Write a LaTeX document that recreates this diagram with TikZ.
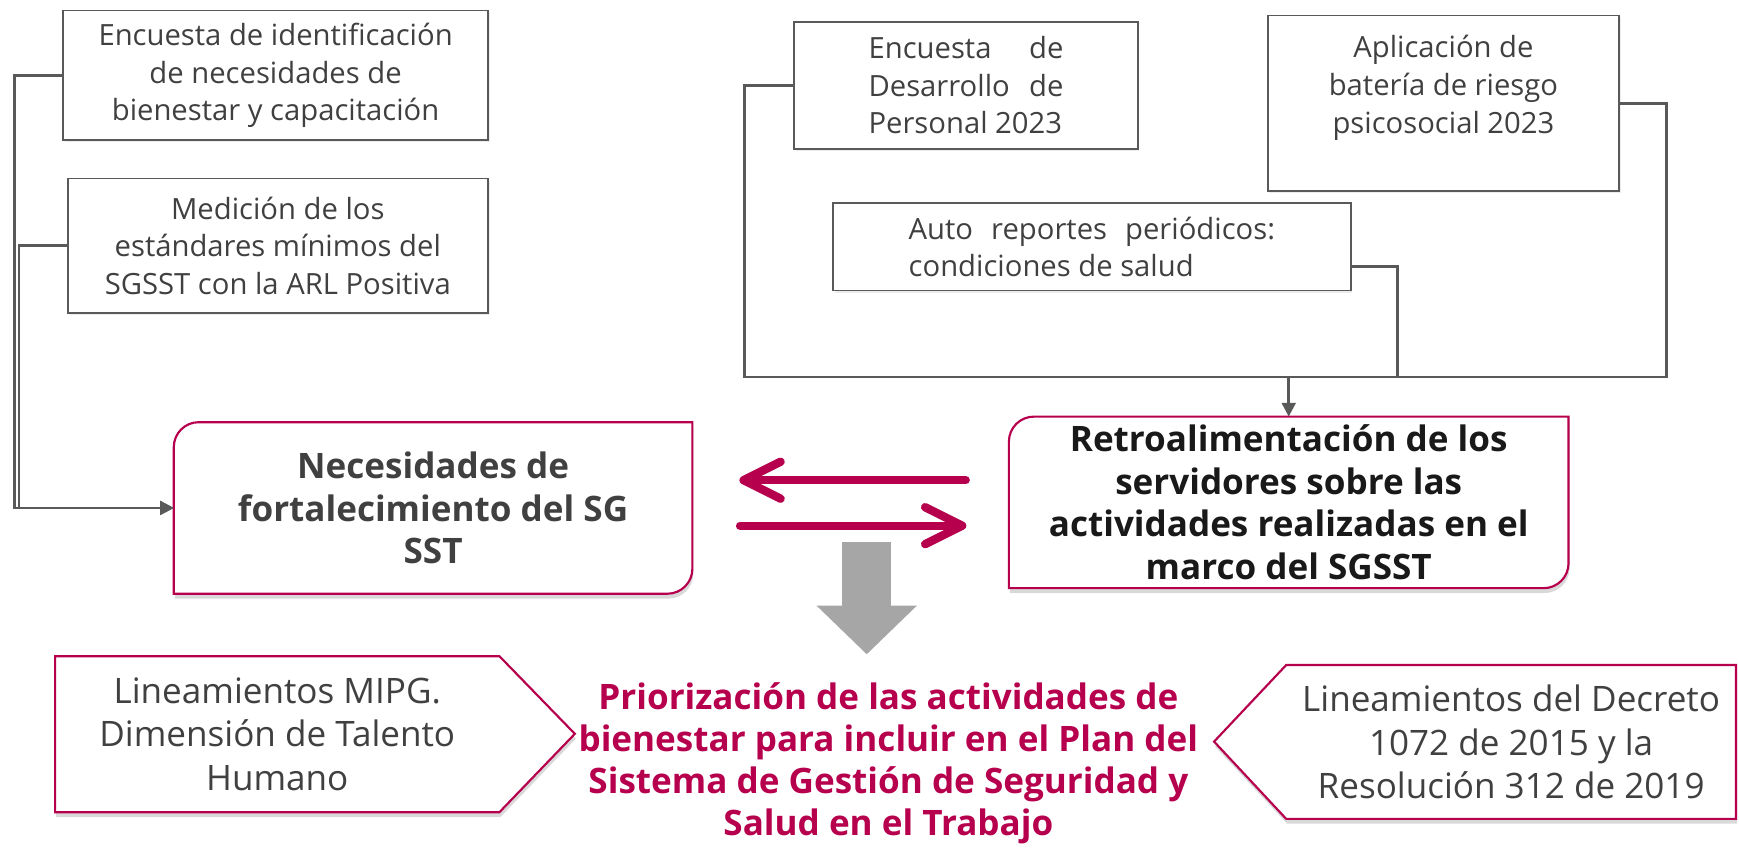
\documentclass[tikz,border=0pt]{standalone}
\usepackage{fontspec}
\setmainfont{Open Sans}
\usetikzlibrary{arrows.meta,shadows,backgrounds}

\definecolor{crimson}{HTML}{B7004D}
\definecolor{linegray}{HTML}{595959}
\definecolor{textgray}{HTML}{404040}
\definecolor{arrowgray}{HTML}{A6A6A6}

\tikzstyle{srcbox} = [rectangle, draw=linegray, line width=0.9pt, fill=white, align=center, text=textgray, font=\fontsize{15}{19.3}\selectfont, inner sep=0pt, drop shadow={opacity=0.15, shadow xshift=0.8pt, shadow yshift=-1pt}]
\tikzstyle{resbox} = [rectangle, align=center, font=\bfseries\fontsize{18}{21.8}\selectfont, inner sep=0pt]
\tikzstyle{guidetext} = [rectangle, align=center, text=textgray, font=\fontsize{18}{22.5}\selectfont, inner sep=0pt]
\tikzstyle{crimsonshell} = [draw=crimson, line width=1.1pt, fill=white, drop shadow={opacity=0.3, shadow xshift=0.5pt, shadow yshift=-2.5pt}]
\tikzset{edge/.style = {
    draw=linegray, line width=1.4pt,
    -{Triangle[length=7pt,width=7pt]},
  },
  link/.style = {draw=linegray, line width=1.4pt},
  backforth/.style = {draw=crimson, line width=4.3pt, line cap=round,
    -{Straight Barb[length=19pt,width=19pt,round]}},
  pushdown/.style = {draw=arrowgray, line width=25pt,
    -{Triangle[length=25pt,width=50pt]}}
}

% border with two rounded corners (top left, bottom right)
\newcommand{\diagshell}[1]{%
  \draw[crimsonshell] (#1.south west) -- ([yshift=-0.45cm]#1.north west)
    arc[start angle=180, end angle=90, radius=0.45cm] -- (#1.north east)
    -- ([yshift=0.45cm]#1.south east)
    arc[start angle=0, end angle=-90, radius=0.45cm] -- cycle;}

\begin{document}
\begin{tikzpicture}[x=0.02cm, y=-0.02cm]
            \useasboundingbox (0,0) rectangle (1568,770);

            % sources
            \node[srcbox, minimum width=7.66cm, minimum height=2.34cm] (encid) at (248.5,68) {Encuesta de identificación\\ de necesidades de\\ bienestar y capacitación};
            \node[srcbox, minimum width=7.58cm, minimum height=2.42cm] (medicion) at (250.5,221.5) {Medición de los\\ estándares mínimos del\\ SGSST con la ARL Positiva};
            \node[srcbox, minimum width=6.2cm, minimum height=2.29cm, align=left] (desarrollo) at (871,77) {\makebox[100pt][s]{Encuesta de}\\ \makebox[100pt][s]{Desarrollo de}\\ Personal 2023};
            \node[srcbox, minimum width=6.34cm, minimum height=3.16cm] (bateria) at (1301.5,93) {Aplicación de\\ batería de riesgo\\ psicosocial 2023\\ \mbox{}};
            \node[srcbox, minimum width=9.34cm, minimum height=1.58cm, align=left] (autorep) at (984.5,222.5) {\makebox[188pt][s]{Auto reportes periódicos:}\\ condiciones de salud};

            % results
            \node[resbox, minimum width=9.34cm, minimum height=3.08cm, text=textgray] (nec) at (390.5,458) {Necesidades de\\ fortalecimiento del SG\\ SST};
            \node[resbox, minimum width=10.08cm, minimum height=3.08cm, text=black!90] (retro) at (1162,453) {Retroalimentación de los\\ servidores sobre las\\ actividades realizadas en el\\ marco del SGSST};
            \node[font=\bfseries\fontsize{18}{21.5}\selectfont, text=crimson, align=center, inner sep=0pt] (prio) at (801,688) {Priorización de las actividades de\\ bienestar para incluir en el Plan del\\ Sistema de Gestión de Seguridad y\\ Salud en el Trabajo};

            % guidelines
            \node[guidetext, minimum width=8cm, minimum height=2.8cm] (mipg) at (250,662) {Lineamientos MIPG.\\ Dimensión de Talento\\ Humano};
            \node[guidetext, minimum width=8.1cm, minimum height=2.76cm] (decreto) at (1362.5,669) {Lineamientos del Decreto\\ 1072 de 2015 y la\\ Resolución 312 de 2019};

            % shells
            \begin{scope}[on background layer]
              \diagshell{nec}
              \diagshell{retro}
              \draw[crimsonshell] (mipg.north west) -- (mipg.north east) -- ++(68,70) -- (mipg.south east) -- (mipg.south west) -- cycle;
              \draw[crimsonshell] (decreto.north east) -- (decreto.north west) -- ++(-65,69) -- (decreto.south west) -- (decreto.south east) -- cycle;
            \end{scope}

            %edges
            \draw[edge] (encid.west) -- ++(-43,0) |- (nec.west);
            \draw[edge] (medicion.west) -- ++(-43,0) |- (nec.west);

            \coordinate (join) at (1162,340);
            \draw[link] (desarrollo.west) -- ++(-44,0) |- (join);
            \draw[link] (bateria.east) -- ++(42,0) |- (join);
            \draw[link] ([yshift=-0.35cm]autorep.east) -- ++(41,0) |- (join);
            \draw[edge] (join) -- (retro.north);

            % exchange arrows
            \draw[backforth] (retro.west) ++(-39,-20) -- ++(-204,0);
            \draw[backforth] (nec.east) ++(43,16) -- ++(204,0);

            % down arrow
            \coordinate (dtop) at (781.5,489);
            \coordinate (dtip) at (781.5,590);
            \draw[pushdown] (dtop) -- (dtip);

\end{tikzpicture}
\end{document}
